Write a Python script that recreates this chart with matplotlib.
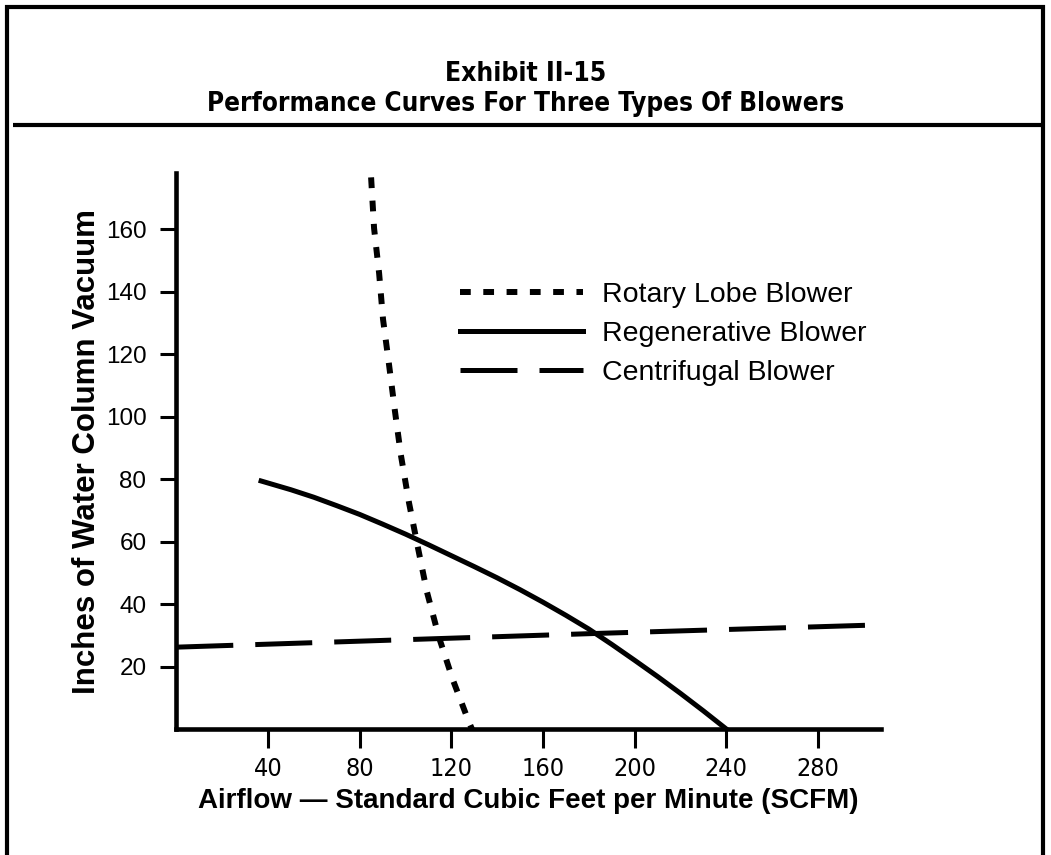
import matplotlib
matplotlib.use("Agg")
import matplotlib.pyplot as plt
from matplotlib.lines import Line2D

rotary_x = [85.0, 86.3, 88.5, 90.2, 92.8, 95.4, 98.0, 101.5, 105.4, 109.4, 114.6, 120.7, 127.7, 129.0]
rotary_y = [176.6, 160.3, 145.9, 131.2, 116.8, 101.8, 87.7, 72.6, 58.2, 43.8, 29.4, 15.7, 2.2, 0.0]

regen_x = [37, 50, 60, 70, 80, 90, 100, 110, 120, 130, 140, 150, 160, 170,
           180, 190, 200, 210, 220, 230, 240]
regen_y = [79.4, 76.6, 74.2, 71.5, 68.7, 65.6, 62.4, 59.0, 55.5, 52.0, 48.4,
           44.6, 40.6, 36.4, 32.0, 27.1, 22.0, 16.8, 11.4, 5.8, 0.0]

centri_x = [0.0, 183.6, 305.3]
centri_y = [26.2, 30.6, 33.3]

xticks = [40, 80, 120, 160, 200, 240, 280]
yticks = [20, 40, 60, 80, 100, 120, 140, 160]
labels = ["Rotary Lobe Blower", "Regenerative Blower", "Centrifugal Blower"]

W, H = 1051, 855
fig = plt.figure(figsize=(W / 100, H / 100), dpi=100)
fig.patch.set_facecolor("white")

REG = ["Liberation Sans", "DejaVu Sans"]
COND = ["DejaVu Sans"]

# frame around the exhibit (open at the bottom)
def fline(xs, ys, lw=3.0):
    fig.add_artist(Line2D([x / W for x in xs], [1 - y / H for y in ys],
                          transform=fig.transFigure, color="black", lw=lw,
                          solid_capstyle="butt"))

fline([7, 7], [5, 855])
fline([5, 1045], [7, 7])
fline([1043, 1043], [5, 855])
fline([13, 1045], [125, 125])

fig.text(0.5, 1 - 74 / H, "Exhibit II-15", ha="center", va="center",
         fontsize=19, fontweight="bold", family=COND, fontstretch="condensed")
fig.text(0.5, 1 - 104 / H, "Performance Curves For Three Types Of Blowers",
         ha="center", va="center", fontsize=18.7, fontweight="bold", family=COND,
         fontstretch="condensed")

ax = fig.add_axes([176.3 / W, 1 - 729 / H, (881 - 176.3) / W, (729 - 173) / H])
ax.set_xlim(0, 307.5)
ax.set_ylim(0, 178)

ax.plot(rotary_x, rotary_y, color="black", lw=4.3, ls=(0, (1.8, 2.1)),
        label=labels[0])
ax.plot(regen_x, regen_y, color="black", lw=3.6, label=labels[1])
ax.plot(centri_x, centri_y, color="black", lw=3.6, ls=(0, (11.4, 4.4)),
        label=labels[2])

for s in ["top", "right"]:
    ax.spines[s].set_visible(False)
for s in ["left", "bottom"]:
    ax.spines[s].set_linewidth(3.3)

ax.set_xticks(xticks)
ax.set_yticks(yticks)
ax.tick_params(axis="y", direction="out", length=11.5, width=2.2, pad=10,
               labelsize=17.5)
ax.tick_params(axis="x", direction="out", length=13.5, width=2.2, pad=7,
               labelsize=18)
for t in ax.get_yticklabels():
    t.set_family(REG)
for t in ax.get_xticklabels():
    t.set_family(COND)
    t.set_fontstretch("condensed")

ax.set_ylabel("Inches of Water Column Vacuum", fontsize=22.5, fontweight="bold",
              family=REG)
ax.yaxis.set_label_coords(-0.105, 0.5)
ax.set_xlabel("Airflow \u2014 Standard Cubic Feet per Minute (SCFM)",
              fontsize=20, fontweight="bold", family=REG, labelpad=5)

leg = ax.legend(loc="upper left", bbox_to_anchor=(460 / W, 1 - 282 / H),
                bbox_transform=fig.transFigure, frameon=False,
                handlelength=4.32, handletextpad=0.67, labelspacing=0.45,
                prop={"family": REG, "size": 20.5}, borderpad=0, borderaxespad=0)

fig.savefig("out.png", dpi=100, facecolor="white")
